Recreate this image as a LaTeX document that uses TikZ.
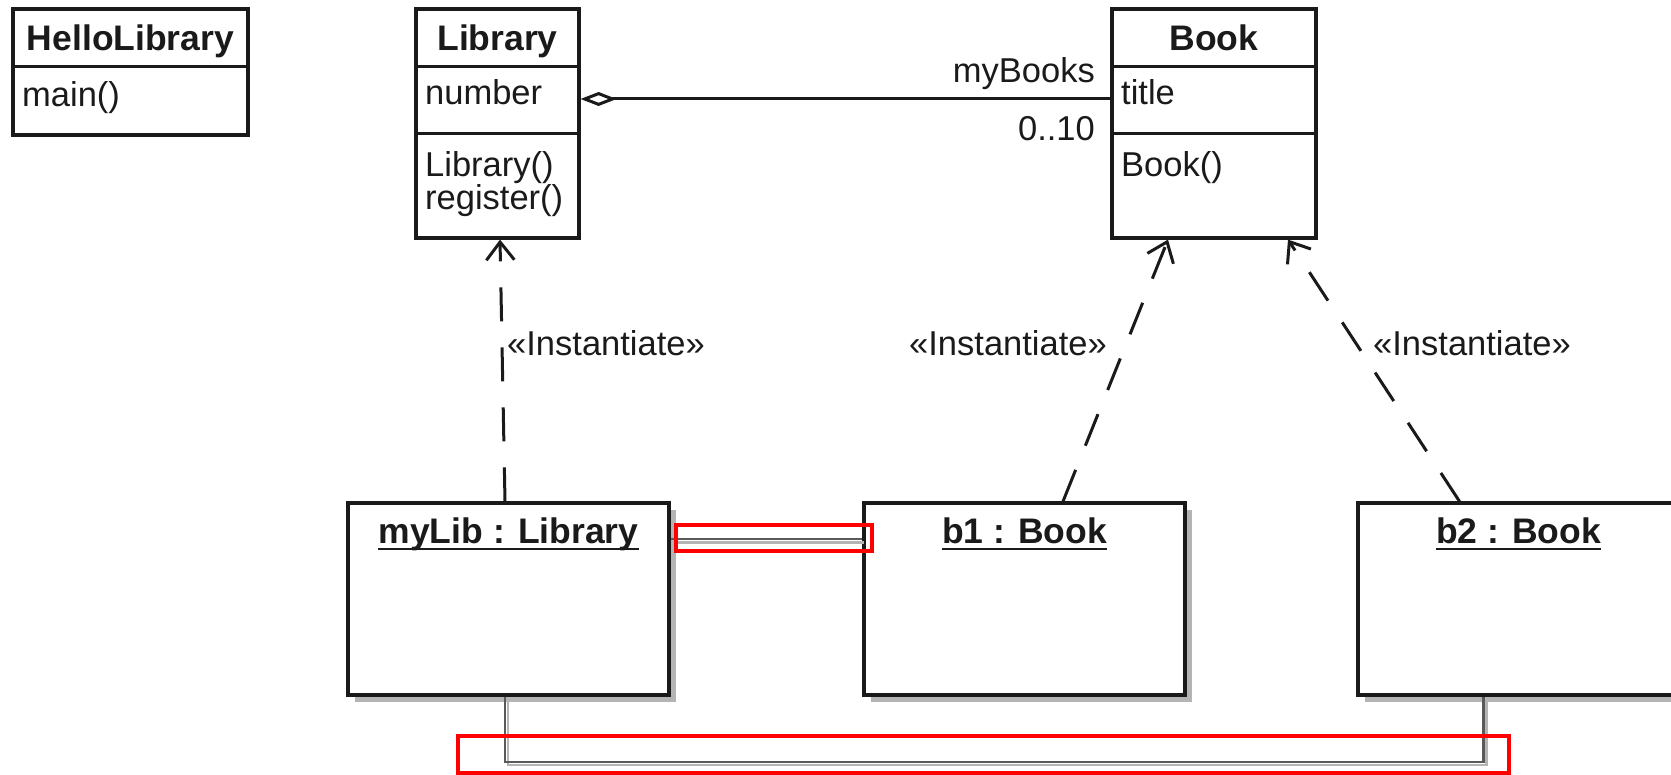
\documentclass[tikz,border=0pt]{standalone}
\usepackage{fontspec}
\setmainfont{Liberation Sans}
\usetikzlibrary{arrows.meta,shadows}
\definecolor{ink}{HTML}{1A1A1A}
\definecolor{linkgray}{HTML}{5A5A5A}
\definecolor{shadowgray}{HTML}{B4B4B4}
\definecolor{hired}{HTML}{FF0000}
\begin{document}
\begin{tikzpicture}[x=1pt,y=-1pt,
  reg/.style={font=\fontsize{34.5}{40}\selectfont, inner sep=0pt, text=ink},
  boldtxt/.style={font=\fontsize{35.5}{42}\selectfont\bfseries, inner sep=0pt, text=ink},
  classbox/.style={draw=ink, line width=3.2pt, fill=white, inner sep=0pt},
  objbox/.style={classbox, drop shadow={shadow xshift=7pt, shadow yshift=-7pt, fill=shadowgray, opacity=1}},
  divider/.style={draw=ink, line width=3.2pt},
  instarrow/.style={draw=ink, line width=3pt, dash pattern=on 34pt off 26pt, -{Straight Barb[length=18pt,width=28pt]}},
  aggline/.style={draw=ink, line width=3pt, {Diamond[open,length=36pt,width=14pt]}-},
  linkline/.style={draw=linkgray, line width=2.2pt},
  linkshadow/.style={draw=shadowgray, line width=2.2pt},
  hibox/.style={draw=hired, line width=4.5pt}
]
\useasboundingbox (0,0) rectangle (1671,775);
\clip (0,0) rectangle (1671,775);

% class boxes
\node[classbox, minimum width=235, minimum height=126] (hello) at (130.5,72) {};
\draw[divider] ([yshift=-59pt]hello.north west) -- ([yshift=-59pt]hello.north east);
\node[boldtxt, anchor=base] (hellot) at (130.5,51) {HelloLibrary};
\node[reg, anchor=base west] (hellom) at (22,107) {main()};

\node[classbox, minimum width=163, minimum height=229] (lib) at (497.5,123.5) {};
\draw[divider] ([yshift=-59pt]lib.north west) -- ([yshift=-59pt]lib.north east);
\draw[divider] ([yshift=-126pt]lib.north west) -- ([yshift=-126pt]lib.north east);
\node[boldtxt, anchor=base] (libt) at (497.5,51) {Library};
\node[reg, anchor=base west] (liba) at (425,105) {number};
\node[reg, anchor=base west] (libm1) at (425,177) {Library()};
\node[reg, anchor=base west] (libm2) at (425,210) {register()};

\node[classbox, minimum width=204, minimum height=229] (book) at (1214,123.5) {};
\draw[divider] ([yshift=-59pt]book.north west) -- ([yshift=-59pt]book.north east);
\draw[divider] ([yshift=-126pt]book.north west) -- ([yshift=-126pt]book.north east);
\node[boldtxt, anchor=base] (bookt) at (1214,51) {Book};
\node[reg, anchor=base west] (booka) at (1121,105) {title};
\node[reg, anchor=base west] (bookm) at (1121,177) {Book()};

% aggregation
\draw[aggline] (lib.east |- 0,99) -- (book.west |- 0,99);
\node[reg, anchor=base east] (role) at (1095,83) {myBooks};
\node[reg, anchor=base east] (mult) at (1095,141) {0..10};

% object boxes
\node[objbox, minimum width=321, minimum height=192] (mylib) at (508.5,599) {};
\node[objbox, minimum width=321, minimum height=192] (b1) at (1024.5,599) {};
\node[objbox, minimum width=321, minimum height=192] (b2) at (1518.5,599) {};

\node[boldtxt, anchor=base] (t1) at (508.5,543) {myLib : Library};
\draw[ink, line width=2.8pt] ([yshift=-6pt]t1.base west) -- ([yshift=-6pt]t1.base east);
\node[boldtxt, anchor=base] (t2) at (1024.5,543) {b1 : Book};
\draw[ink, line width=2.8pt] ([yshift=-6pt]t2.base west) -- ([yshift=-6pt]t2.base east);
\node[boldtxt, anchor=base] (t3) at (1518.5,543) {b2 : Book};
\draw[ink, line width=2.8pt] ([yshift=-6pt]t3.base west) -- ([yshift=-6pt]t3.base east);

% instantiate dependencies
\draw[instarrow] ([xshift=-3.5pt]mylib.north) -- ([xshift=2.5pt]lib.south);
\draw[instarrow] ([xshift=38.5pt]b1.north) -- ([xshift=-46pt]book.south);
\draw[instarrow] ([xshift=-59pt]b2.north) -- ([xshift=74pt]book.south);
\node[reg, anchor=base west] (inst1) at (507,356) {«Instantiate»};
\node[reg, anchor=base west] (inst2) at (909,356) {«Instantiate»};
\node[reg, anchor=base west] (inst3) at (1373,356) {«Instantiate»};

% links
\coordinate (l1a) at (mylib.east |- 0,539);
\coordinate (l1b) at (b1.west |- 0,539);
\draw[linkshadow] ([xshift=2pt,yshift=-3.5pt]l1a) -- ([xshift=2pt,yshift=-3.5pt]l1b);
\draw[linkline] (l1a) -- (l1b);

\coordinate (l2a) at ([xshift=-3.5pt]mylib.south);
\coordinate (l2b) at ([xshift=-35pt]b2.south);
\coordinate (l2c) at (l2a |- 0,762);
\coordinate (l2d) at (l2b |- 0,762);
\draw[linkshadow] ([xshift=3pt,yshift=-3pt]l2a) -- ([xshift=3pt,yshift=-3pt]l2c) -- ([xshift=3pt,yshift=-3pt]l2d) -- ([xshift=3pt,yshift=-3pt]l2b);
\draw[linkline] (l2a) -- (l2c) -- (l2d) -- (l2b);

% highlight rectangles
\draw[hibox] (676,525) rectangle (872,551);
\draw[hibox] (458,736) rectangle (1509,773);
\end{tikzpicture}
\end{document}
